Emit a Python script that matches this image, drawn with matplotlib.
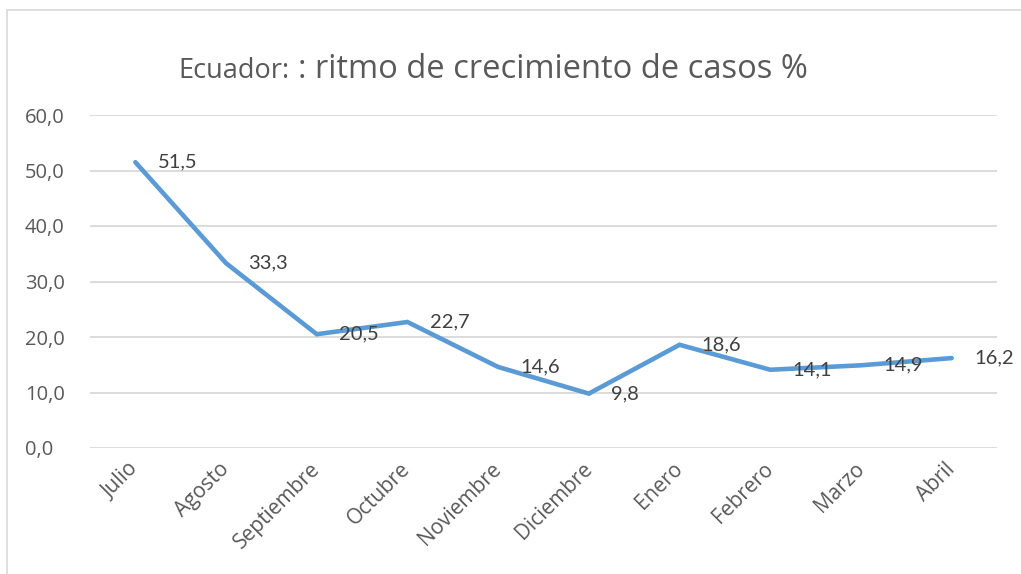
import matplotlib.pyplot as plt
from matplotlib.patches import Rectangle

# Datos del grafico
meses = ['Julio', 'Agosto', 'Septiembre', 'Octubre', 'Noviembre',
         'Diciembre', 'Enero', 'Febrero', 'Marzo', 'Abril']
ritmo = [51.5, 33.3, 20.5, 22.7, 14.6, 9.8, 18.6, 14.1, 14.9, 16.2]
yticks = [0, 10, 20, 30, 40, 50, 60]

gris = '#595959'
azul = '#5B9BD5'

fig = plt.figure(figsize=(10.21, 5.74), dpi=100)
ax = fig.add_axes([90 / 1021, 1 - 448 / 574, 907 / 1021, 333 / 574])

x = list(range(len(meses)))
ax.plot(x, ritmo, color=azul, linewidth=3.3, solid_capstyle='round',
        solid_joinstyle='miter', zorder=3)

# Etiquetas de datos a la derecha de cada punto
for xi, v in zip(x, ritmo):
    ax.annotate(f'{v:.1f}'.replace('.', ','), (xi, v), xytext=(16, 0),
                textcoords='offset points', ha='left', va='center',
                fontsize=14.5, color='#404040', family='Lato', zorder=4)

ax.set_xlim(-0.5, len(meses) - 0.5)
ax.set_ylim(0, 60)
ax.set_yticks(yticks)
ax.set_yticklabels([f'{t:.1f}'.replace('.', ',') for t in yticks],
                   fontsize=14.5, color=gris, family='Open Sans')
ax.set_xticks(x)
ax.set_xticklabels(meses, rotation=45, ha='right', va='center',
                   rotation_mode='anchor', fontsize=15, color=gris,
                   family='Open Sans')
ax.tick_params(axis='both', length=0)
ax.tick_params(axis='x', pad=13)
ax.tick_params(axis='y', pad=47)
for lbl in ax.get_yticklabels():
    lbl.set_horizontalalignment('left')

ax.grid(axis='y', color='#D9D9D9', linewidth=1.3)
ax.set_axisbelow(True)
for s in ax.spines.values():
    s.set_visible(False)

# Titulo en dos tamanos
fig.text(178 / 1021, 1 - 78 / 574, 'Ecuador:', fontsize=19.5, color=gris,
         family='Open Sans', ha='left', va='baseline')
fig.text(298 / 1021, 1 - 78 / 574, ': ritmo de crecimiento de casos %',
         fontsize=23.5, color=gris, family='Open Sans', ha='left',
         va='baseline')

# Borde del area del grafico
fig.patches.append(Rectangle((7 / 1021, -0.1), 1.1, 1.1 - 10 / 574,
                             transform=fig.transFigure, fill=False,
                             edgecolor='#D9D9D9', linewidth=1.2))

fig.savefig('out.png', dpi=100)
